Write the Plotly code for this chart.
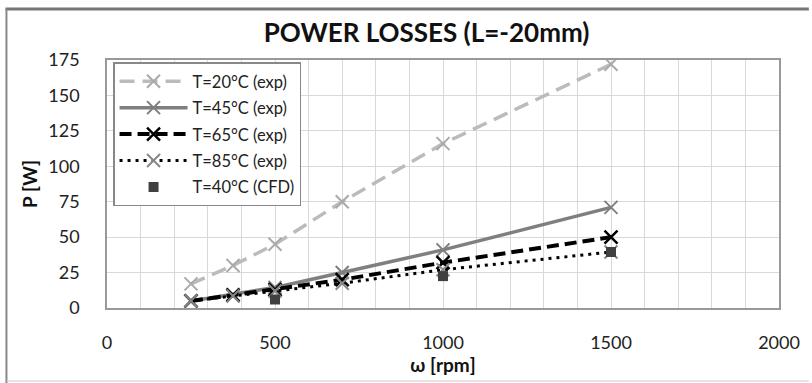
import plotly.graph_objects as go

rpm = [250, 375, 500, 700, 1000, 1500]
p_20 = [17, 30, 45, 75, 116, 172]
p_45 = [5, 9.5, 14.5, 25, 41, 71]
p_65 = [5, 9, 13, 20, 32, 50]
p_85 = [5, 8.5, 12, 17.5, 27, 39.5]
rpm_cfd = [500, 1000, 1500]
p_cfd = [6, 22.5, 39.5]

x_ticks = [0, 500, 1000, 1500, 2000]
y_ticks = [0, 25, 50, 75, 100, 125, 150, 175]

FONT = "Lato"

fig = go.Figure()

fig.add_trace(go.Scatter(
    x=rpm, y=p_20, name="T=20°C (exp)", mode="lines+markers",
    line=dict(color="#BBBBBB", width=3.5, dash="15px,8px"),
    marker=dict(symbol="x-thin", size=13, line=dict(width=2, color="#AAAAAA"), color="#AAAAAA"),
    legendgroup="a"))
fig.add_trace(go.Scatter(
    x=rpm, y=p_45, name="T=45°C (exp)", mode="lines+markers",
    line=dict(color="#7F7F7F", width=3.5),
    marker=dict(symbol="x-thin", size=13, line=dict(width=2, color="#7F7F7F"), color="#7F7F7F"),
    legendgroup="b"))
fig.add_trace(go.Scatter(
    x=rpm, y=p_65, name="T=65°C (exp)", mode="lines+markers",
    line=dict(color="#000000", width=4, dash="12px,6px"),
    marker=dict(symbol="x-thin", size=13, line=dict(width=2.5, color="#000000"), color="#000000"),
    legendgroup="c"))
fig.add_trace(go.Scatter(
    x=rpm, y=p_85, name="T=85°C (exp)", mode="lines+markers",
    line=dict(color="#000000", width=3, dash="3px,5px"),
    marker=dict(symbol="x-thin", size=13, line=dict(width=2, color="#888888"), color="#888888"),
    legendgroup="d"))
fig.add_trace(go.Scatter(
    x=rpm_cfd, y=p_cfd, name="T=40°C (CFD)", mode="markers",
    marker=dict(symbol="square", size=10, color="#404040"),
    legendgroup="e"))

fig.update_layout(
    width=812, height=383,
    margin=dict(l=107, r=30, t=60, b=75),
    paper_bgcolor="white", plot_bgcolor="white",
    font=dict(family=FONT, color="#222222"),
    title=dict(text="<b>POWER LOSSES (L=-20mm)</b>", x=(428 - 107) / 675, xref="paper",
               xanchor="center", y=1 - 33 / 383, yanchor="middle",
               font=dict(size=26, family=FONT, color="#111111")),
    showlegend=True,
    legend=dict(x=0.009, y=0.99, xanchor="left", yanchor="top",
                bgcolor="white", bordercolor="#888888", borderwidth=1.5,
                font=dict(size=16.5, family=FONT, color="#222222"),
                itemwidth=68, tracegroupgap=2),
    xaxis=dict(range=[0, 2000], tickvals=x_ticks, ticktext=[str(v) for v in x_ticks],
               showgrid=True, gridcolor="#D9D9D9", gridwidth=1,
               minor=dict(dtick=100, showgrid=True, gridcolor="#D9D9D9", gridwidth=1),
               showline=True, linecolor="#999999", linewidth=1.5, mirror=True,
               zeroline=False, ticks="", ticklabelstandoff=18,
               tickfont=dict(size=18, family=FONT, color="#222222"),
               title=dict(text="<b>ω [rpm]</b>", standoff=0,
                          font=dict(size=19, family=FONT, color="#111111"))),
    yaxis=dict(range=[0, 175], tickvals=y_ticks, ticktext=[str(v) for v in y_ticks],
               showgrid=True, gridcolor="#D9D9D9", gridwidth=1,
               showline=True, linecolor="#999999", linewidth=1.5, mirror=True,
               zeroline=False, ticks="", ticklabelstandoff=22,
               tickfont=dict(size=18, family=FONT, color="#222222"),
               title=dict(text="<b>P [W]</b>", standoff=6,
                          font=dict(size=19, family=FONT, color="#111111"))),
)

# outer frame
def px_x(p):
    return (p - 107) / 675

def px_y(p):
    return (308 - p) / 248

fig.add_shape(type="line", xref="paper", yref="paper", x0=px_x(5), x1=px_x(812),
              y0=px_y(9), y1=px_y(9), line=dict(color="#777777", width=3))
fig.add_shape(type="line", xref="paper", yref="paper", x0=px_x(6), x1=px_x(6),
              y0=px_y(9), y1=px_y(383), line=dict(color="#888888", width=2))
fig.add_shape(type="line", xref="paper", yref="paper", x0=px_x(6), x1=px_x(812),
              y0=px_y(381), y1=px_y(381), line=dict(color="#CCCCCC", width=1))

fig.write_html("out.html", config={"displayModeBar": False},
               post_script="document.body.style.margin='0';")
